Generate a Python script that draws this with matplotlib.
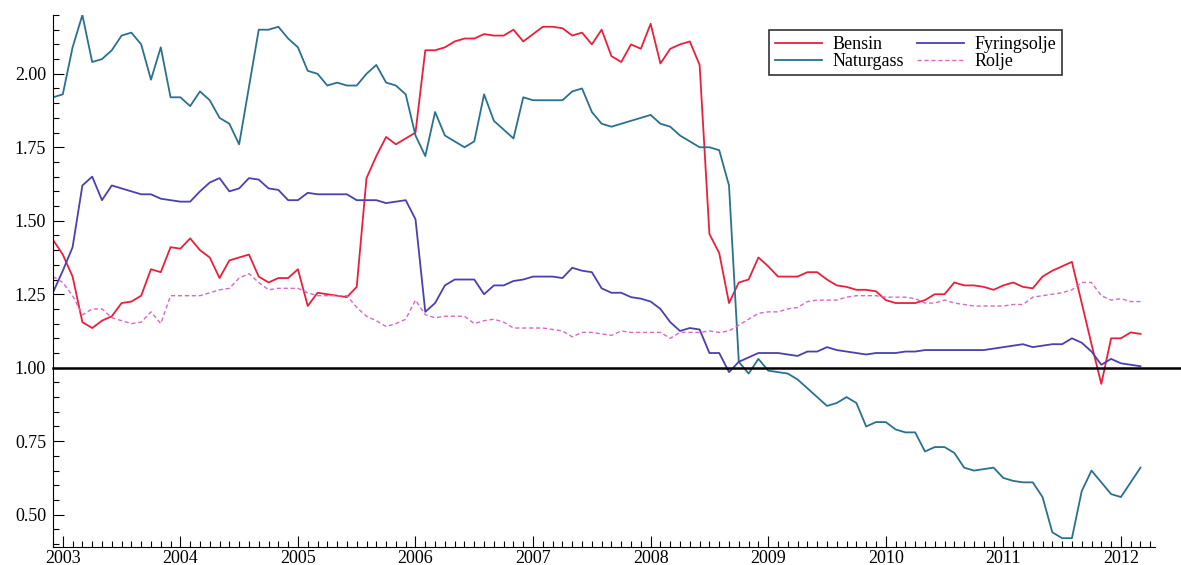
import numpy as np
import matplotlib
matplotlib.use("Agg")
import matplotlib.pyplot as plt
from matplotlib.ticker import MultipleLocator, FormatStrFormatter


# monthly observations, Dec 2002 - Mar 2012
start = 2002 + 11 / 12

bensin = [1.435, 1.385, 1.31, 1.155, 1.135, 1.16, 1.175, 1.22, 1.225, 1.245,
          1.335, 1.325, 1.41, 1.405, 1.44, 1.40, 1.375, 1.305, 1.365, 1.375,
          1.385, 1.31, 1.29, 1.305, 1.305, 1.335, 1.21, 1.255, 1.25, 1.245,
          1.24, 1.275, 1.645, 1.72, 1.785, 1.76, 1.78, 1.80, 2.08, 2.08,
          2.09, 2.11, 2.12, 2.12, 2.135, 2.13, 2.13, 2.15, 2.11, 2.135,
          2.16, 2.16, 2.155, 2.13, 2.14, 2.10, 2.15, 2.06, 2.04, 2.10,
          2.085, 2.17, 2.035, 2.085, 2.10, 2.11, 2.03, 1.455, 1.39, 1.22,
          1.29, 1.30, 1.375, 1.345, 1.31, 1.31, 1.31, 1.325, 1.325, 1.30,
          1.28, 1.275, 1.265, 1.265, 1.26, 1.23, 1.22, 1.22, 1.22, 1.23,
          1.25, 1.25, 1.29, 1.28, 1.28, 1.275, 1.265, 1.28, 1.29, 1.275,
          1.27, 1.31, 1.33, 1.345, 1.36, 1.22, 1.08, 0.945, 1.10, 1.10,
          1.12, 1.115]

naturgass = [1.92, 1.93, 2.09, 2.20, 2.04, 2.05, 2.08, 2.13, 2.14, 2.10,
             1.98, 2.09, 1.92, 1.92, 1.89, 1.94, 1.91, 1.85, 1.83, 1.76,
             1.955, 2.15, 2.15, 2.16, 2.12, 2.09, 2.01, 2.00, 1.96, 1.97,
             1.96, 1.96, 2.00, 2.03, 1.97, 1.96, 1.93, 1.79, 1.72, 1.87,
             1.79, 1.77, 1.75, 1.77, 1.93, 1.84, 1.81, 1.78, 1.92, 1.91,
             1.91, 1.91, 1.91, 1.94, 1.95, 1.87, 1.83, 1.82, 1.83, 1.84,
             1.85, 1.86, 1.83, 1.82, 1.79, 1.77, 1.75, 1.75, 1.74, 1.62,
             1.02, 0.98, 1.03, 0.99, 0.985, 0.98, 0.96, 0.93, 0.90, 0.87,
             0.88, 0.90, 0.88, 0.80, 0.815, 0.815, 0.79, 0.78, 0.78, 0.715,
             0.73, 0.73, 0.71, 0.66, 0.65, 0.655, 0.66, 0.625, 0.615, 0.61,
             0.61, 0.56, 0.44, 0.42, 0.42, 0.58, 0.65, 0.61, 0.57, 0.56,
             0.61, 0.66]

fyringsolje = [1.256, 1.33, 1.41, 1.62, 1.65, 1.57, 1.62, 1.61, 1.60, 1.59,
               1.59, 1.575, 1.57, 1.565, 1.565, 1.60, 1.63, 1.645, 1.60, 1.61,
               1.645, 1.64, 1.61, 1.605, 1.57, 1.57, 1.595, 1.59, 1.59, 1.59,
               1.59, 1.57, 1.57, 1.57, 1.56, 1.565, 1.57, 1.505, 1.19, 1.22,
               1.28, 1.30, 1.30, 1.30, 1.25, 1.28, 1.28, 1.295, 1.30, 1.31,
               1.31, 1.31, 1.305, 1.34, 1.33, 1.325, 1.27, 1.255, 1.255, 1.24,
               1.235, 1.225, 1.20, 1.155, 1.125, 1.135, 1.13, 1.05, 1.05, 0.985,
               1.02, 1.035, 1.05, 1.05, 1.05, 1.045, 1.04, 1.055, 1.055, 1.07,
               1.06, 1.055, 1.05, 1.045, 1.05, 1.05, 1.05, 1.055, 1.055, 1.06,
               1.06, 1.06, 1.06, 1.06, 1.06, 1.06, 1.065, 1.07, 1.075, 1.08,
               1.07, 1.075, 1.08, 1.08, 1.10, 1.085, 1.055, 1.01, 1.03, 1.015,
               1.01, 1.005]

rolje = [1.31, 1.29, 1.245, 1.18, 1.20, 1.20, 1.17, 1.16, 1.15, 1.155,
         1.19, 1.15, 1.245, 1.245, 1.245, 1.245, 1.255, 1.265, 1.27, 1.305,
         1.32, 1.29, 1.265, 1.27, 1.27, 1.27, 1.255, 1.245, 1.245, 1.245,
         1.245, 1.205, 1.175, 1.16, 1.14, 1.15, 1.165, 1.23, 1.18, 1.17,
         1.175, 1.175, 1.175, 1.15, 1.16, 1.165, 1.155, 1.135, 1.135, 1.135,
         1.135, 1.13, 1.125, 1.105, 1.12, 1.12, 1.115, 1.11, 1.125, 1.12,
         1.12, 1.12, 1.12, 1.10, 1.12, 1.12, 1.12, 1.125, 1.12, 1.125,
         1.145, 1.165, 1.185, 1.19, 1.19, 1.20, 1.205, 1.225, 1.23, 1.23,
         1.23, 1.24, 1.245, 1.245, 1.245, 1.24, 1.24, 1.24, 1.235, 1.22,
         1.22, 1.23, 1.22, 1.215, 1.21, 1.21, 1.21, 1.21, 1.215, 1.215,
         1.24, 1.245, 1.25, 1.255, 1.265, 1.29, 1.29, 1.245, 1.23, 1.235,
         1.225, 1.225]

years = list(range(2003, 2013))
t = start + np.arange(len(bensin)) / 12

plt.rcParams['font.family'] = ['Liberation Serif', 'DejaVu Serif']

fig = plt.figure(figsize=(11.81, 5.65), dpi=100)
ax = fig.add_axes([53 / 1181, 18 / 565, 1102 / 1181, 532 / 565])

ax.plot(t, bensin, color='#e8203c', lw=1.3, label='Bensin')
ax.plot(t, naturgass, color='#2a7090', lw=1.3, label='Naturgass')
ax.plot(t, fyringsolje, color='#4a40b0', lw=1.3, label='Fyringsolje')
ax.plot(t, rolje, color='#d868c4', lw=1.0, ls=(0, (3, 2)), label='Rolje')

# reference line at 1, runs out past the axes to the edge
ax.axhline(1.0, xmin=0, xmax=(1181 - 53) / 1102, color='black', lw=1.8,
           clip_on=False, zorder=5)

ax.set_xlim(start, 2012.29)
ax.set_ylim(0.39, 2.2)

ax.set_xticks(years)
ax.xaxis.set_minor_locator(MultipleLocator(1 / 12))
ax.yaxis.set_major_locator(MultipleLocator(0.25))
ax.yaxis.set_minor_locator(MultipleLocator(0.05))
ax.yaxis.set_major_formatter(FormatStrFormatter('%.2f'))

ax.tick_params(which='both', direction='in', labelsize=13, width=0.8)
ax.tick_params(which='major', length=8)
ax.tick_params(which='minor', length=4)
ax.tick_params(axis='x', pad=2)
ax.tick_params(axis='y', pad=5)

ax.spines['top'].set_visible(False)
ax.spines['right'].set_visible(False)

leg = ax.legend(ncol=2, loc='upper left', bbox_to_anchor=(0.650, 0.971),
                borderaxespad=0, fontsize=13, handlelength=2.6,
                labelspacing=0.0, columnspacing=0.7, handletextpad=0.6,
                borderpad=0.3, fancybox=False, framealpha=1,
                edgecolor='#333333')
leg.get_frame().set_linewidth(1.2)

fig.savefig('out.png', dpi=100)
